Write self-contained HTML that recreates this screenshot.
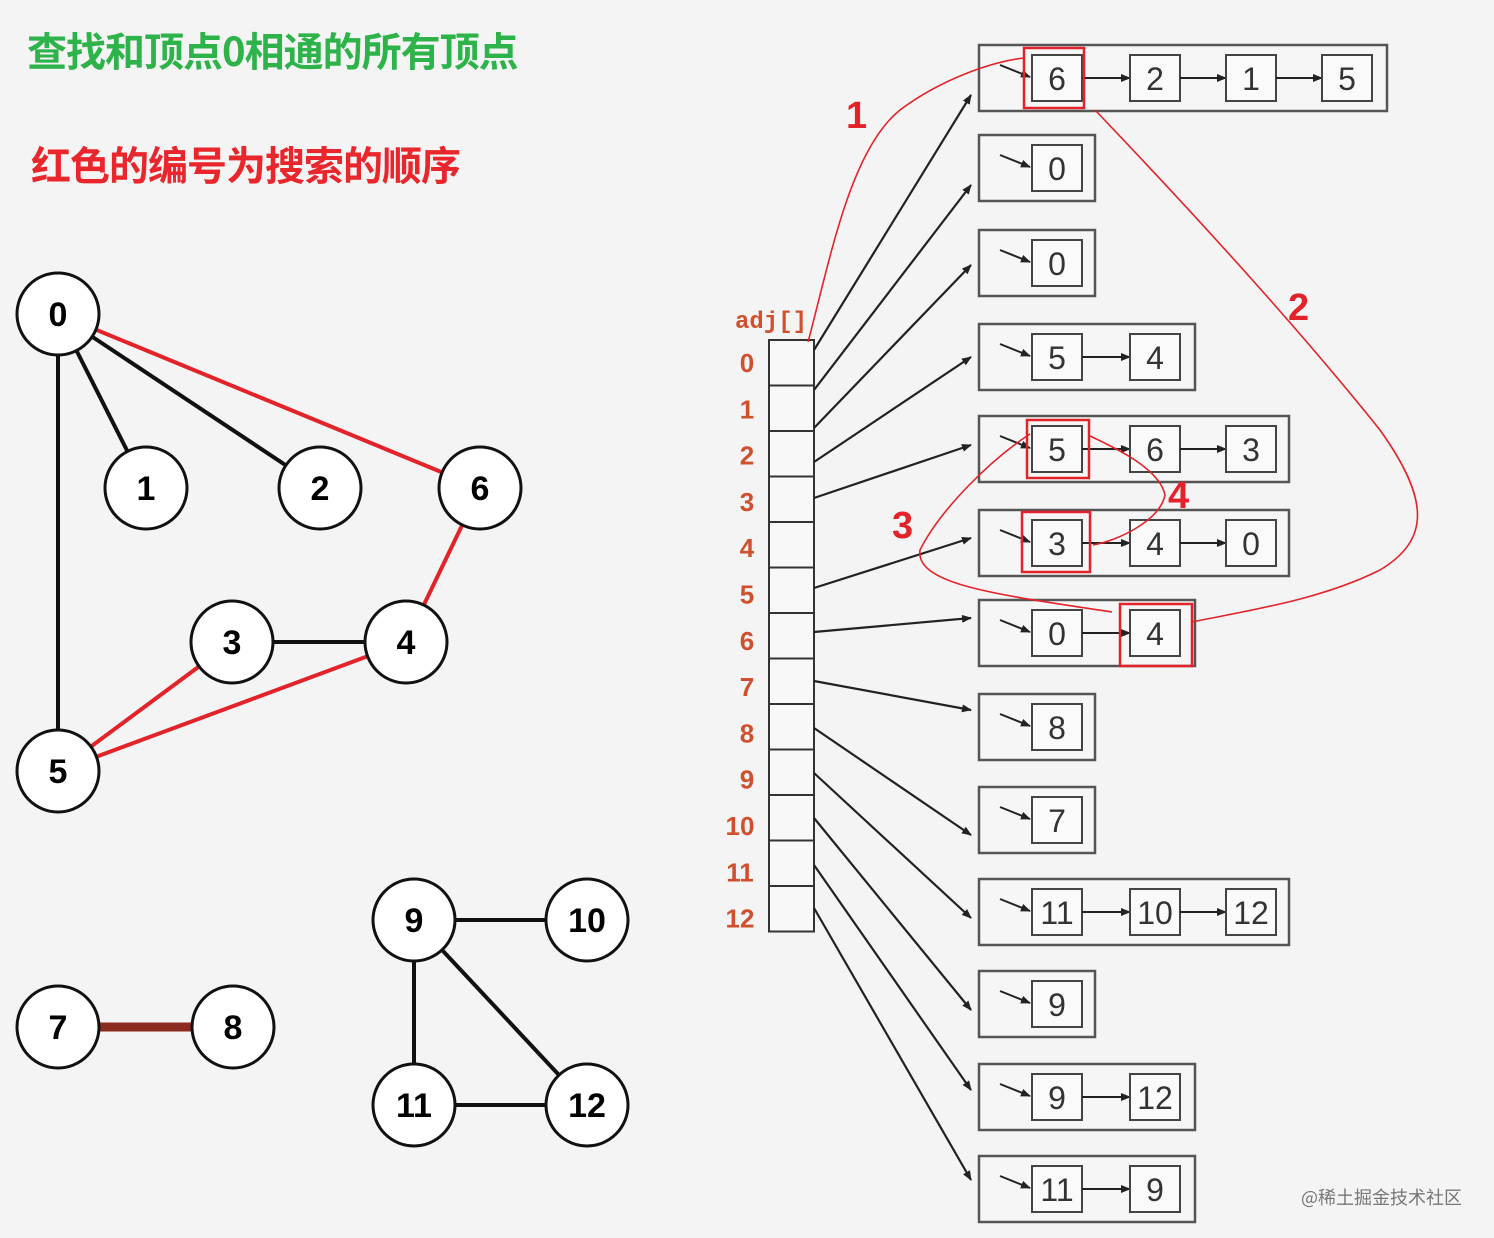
<!DOCTYPE html>
<html><head><meta charset="utf-8"><style>
html,body{margin:0;padding:0;background:#f4f4f4;}
body{width:1494px;height:1238px;position:relative;overflow:hidden;font-family:"Liberation Sans","Noto Sans CJK SC",sans-serif;}
.t1{position:absolute;left:27px;top:20px;font-size:40px;font-weight:bold;color:#2db34a;letter-spacing:-1px;font-family:"Noto Sans CJK SC",sans-serif;}
.t2{position:absolute;left:31px;top:134px;font-size:40px;font-weight:bold;color:#e8262b;letter-spacing:-1px;font-family:"Noto Sans CJK SC",sans-serif;}
.wm{position:absolute;right:32px;top:1184px;font-size:18px;color:#777;font-family:"Noto Sans CJK SC",sans-serif;}
svg{position:absolute;left:0;top:0;}
</style></head><body>
<div class="t1">查找和顶点0相通的所有顶点</div>
<div class="t2">红色的编号为搜索的顺序</div>
<svg id="s" width="1494" height="1238" viewBox="0 0 1494 1238"></svg>
<div class="wm">@稀土掘金技术社区</div>
<script>
var s='';
s+='<defs><marker id="a" markerWidth="10" markerHeight="8" refX="9" refY="4" orient="auto" markerUnits="userSpaceOnUse"><path d="M0,0 L10,4 L0,8 z" fill="#222"/></marker></defs>';
function L(x1,y1,x2,y2,c,w){s+='<line x1="'+x1+'" y1="'+y1+'" x2="'+x2+'" y2="'+y2+'" stroke="'+c+'" stroke-width="'+w+'"/>';}
var N={0:[58,314],1:[146,488],2:[320,488],6:[480,488],3:[232,642],4:[406,642],5:[58,771],7:[58,1027],8:[233,1027],9:[414,920],10:[587,920],11:[414,1105],12:[587,1105]};
var K='#111',R='#e3232a';
[[0,1,K],[0,2,K],[0,5,K],[3,4,K],[9,10,K],[9,11,K],[9,12,K],[11,12,K],[0,6,R],[6,4,R],[3,5,R],[4,5,R]].forEach(function(e){var a=N[e[0]],b=N[e[1]];L(a[0],a[1],b[0],b[1],e[2],4);});
L(100,1027,192,1027,'#8b2a1e',9);
for(var k in N){var p=N[k];s+='<circle cx="'+p[0]+'" cy="'+p[1]+'" r="41" fill="#fff" stroke="#111" stroke-width="3"/><text x="'+p[0]+'" y="'+(p[1]+12)+'" text-anchor="middle" font-size="34" font-weight="bold" font-family="Liberation Sans,sans-serif">'+k+'</text>';}
s+='<text x="735" y="328" font-size="24" font-weight="bold" fill="#d0502e" font-family="Liberation Mono,monospace">adj[]</text>';
for(var i=0;i<13;i++){var y=340+i*45.5;s+='<rect x="769" y="'+y+'" width="45" height="45.5" fill="#f8f8f8" stroke="#333" stroke-width="2"/>';
s+='<text x="'+(i<10?747:740)+'" y="'+(372+i*46.3)+'" text-anchor="middle" font-size="26" font-weight="bold" fill="#d0502e" font-family="Liberation Sans,sans-serif">'+i+'</text>';}
var tops=[45,135,230,324,416,510,600,694,787,879,971,1064,1156];
var rows=[[6,2,1,5],[0],[0],[5,4],[5,6,3],[3,4,0],[0,4],[8],[7],[11,10,12],[9],[9,12],[11,9]];
var ends=[95,185,265,357,445,538,618,710,835,918,1010,1090,1180];
var starts=[350,390,428,462,498,588,632,681,728,773,818,865,908];
var cx=[1032,1130,1226,1322],bw=[0,116,216,310,408];
for(var i=0;i<13;i++){var t=tops[i],r=rows[i];
s+='<rect x="979" y="'+t+'" width="'+bw[r.length]+'" height="66" fill="#f6f6f6" stroke="#555" stroke-width="2.5"/>';
s+='<line x1="1000" y1="'+(t+20)+'" x2="1030" y2="'+(t+32)+'" stroke="#222" stroke-width="2" marker-end="url(#a)"/>';
for(var j=0;j<r.length;j++){s+='<rect x="'+cx[j]+'" y="'+(t+10)+'" width="50" height="46" fill="#fafafa" stroke="#444" stroke-width="2"/><text x="'+(cx[j]+25)+'" y="'+(t+45)+'" text-anchor="middle" font-size="32" fill="#333" font-family="Liberation Sans,sans-serif">'+r[j]+'</text>';
if(j<r.length-1)s+='<line x1="'+(cx[j]+50)+'" y1="'+(t+33)+'" x2="'+cx[j+1]+'" y2="'+(t+33)+'" stroke="#222" stroke-width="2" marker-end="url(#a)"/>';}
s+='<line x1="814" y1="'+starts[i]+'" x2="971" y2="'+ends[i]+'" stroke="#222" stroke-width="2.2" marker-end="url(#a)"/>';}
function RB(x,y,w,h){s+='<rect x="'+x+'" y="'+y+'" width="'+w+'" height="'+h+'" fill="none" stroke="#e3232a" stroke-width="2.5"/>';}
RB(1024,48,60,60);RB(1027,420,62,58);RB(1022,512,68,60);RB(1120,604,72,62);
s+='<g fill="none" stroke="#e3232a" stroke-width="1.6">';
s+='<path d="M808,342 C830,260 850,150 900,110 C940,80 990,62 1024,58"/>';
s+='<path d="M1095,110 C1200,220 1300,330 1380,430 C1430,500 1430,540 1380,570 C1320,600 1250,610 1192,622"/>';
s+='<path d="M1030,434 C990,460 940,510 920,550 C915,585 1000,595 1112,612"/>';
s+='<path d="M1090,436 C1120,450 1160,470 1165,495 C1160,520 1120,540 1093,545"/>';
s+='</g>';
function RT(x,y,t){s+='<text x="'+x+'" y="'+y+'" font-size="38" font-weight="bold" fill="#e3232a" font-family="Liberation Sans,sans-serif">'+t+'</text>';}
RT(846,128,'1');RT(1288,320,'2');RT(892,538,'3');RT(1168,508,'4');
document.getElementById('s').innerHTML=s;
</script>
</body></html>
